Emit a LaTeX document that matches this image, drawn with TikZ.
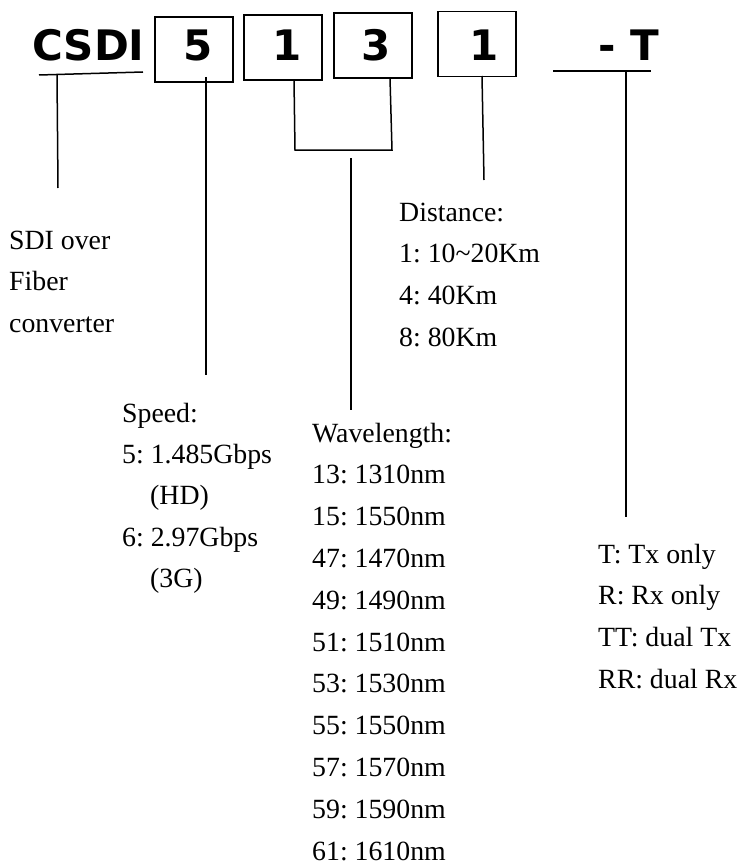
\documentclass[tikz,border=0pt]{standalone}
\usepackage{fontspec}
\setmainfont{Liberation Serif}
\newfontfamily\codefont{DejaVu Sans Bold}
\begin{document}
\frenchspacing
\begin{tikzpicture}[x=1pt,y=-1pt,
  box/.style={draw,line width=1.8pt,inner sep=0pt,minimum width=78pt,minimum height=65pt},
  code/.style={inner sep=0pt,anchor=base,font=\codefont\fontsize{42}{42}\selectfont},
  txt/.style={inner sep=0pt,anchor=base west,font=\fontsize{27.8}{27.8}\selectfont},
  conn/.style={line width=1.5pt}]
\useasboundingbox (0,0) rectangle (741,864);
% code row
\node[code,anchor=base west] (csdi) at (32,61) {CSDI};
\node[box] (b5) at (194,49.5) {};
\node[box] (b1) at (283,47.5) {};
\node[box] (b3) at (373,45.5) {};
\node[box] (bd) at (477,44) {};
\node[code] (t5) at (198,61) {5};
\node[code] (t1) at (287,61) {1};
\node[code] (t3) at (376,61) {3};
\node[code] (td) at (484,61) {1};
\node[code,anchor=base west] (tt) at (598,61) {- T};
% underlines
\coordinate (u1a) at (39,75); \coordinate (u1b) at (143,72);
\coordinate (u2a) at (553,71); \coordinate (u2b) at (651,71);
\draw[conn] (u1a) -- (u1b);
\draw[conn] (u2a) -- (u2b);
% connectors
\coordinate (c0a) at (57,75); \coordinate (c0b) at (58,188);
\draw[conn] (c0a) -- (c0b);
\coordinate (c5a) at (206,77); \coordinate (c5b) at (206,375);
\draw[conn] (c5a) -- (c5b);
\coordinate (br1) at (294,80); \coordinate (br2) at (295,150);
\coordinate (br3) at (392,150); \coordinate (br4) at (390,78);
\draw[conn] (br1) -- (br2) -- (br3) -- (br4);
\coordinate (cwa) at (351,158); \coordinate (cwb) at (351,410);
\draw[conn] (cwa) -- (cwb);
\coordinate (cda) at (482,76); \coordinate (cdb) at (484,180);
\draw[conn] (cda) -- (cdb);
\coordinate (cta) at (626,71); \coordinate (ctb) at (626,517);
\draw[conn] (cta) -- (ctb);
% texts
\foreach \t [count=\i] in {{SDI over},{Fiber},{converter}}
  \node[txt] (s\i) at (9,{249+41.5*(\i-1)}) {\t};
\foreach \t [count=\i] in {{Distance:},{1: 10\textasciitilde20Km},{4: 40Km},{8: 80Km}}
  \node[txt] (d\i) at (399,{221+41.7*(\i-1)}) {\t};
\foreach \t [count=\i] in {{Speed:},{5: 1.485Gbps},{\hspace*{28pt}(HD)},{6: 2.97Gbps},{\hspace*{28pt}(3G)}}
  \node[txt] (p\i) at (122,{422+41.4*(\i-1)}) {\t};
\foreach \t [count=\i] in {{Wavelength:},{13: 1310nm},{15: 1550nm},{47: 1470nm},{49: 1490nm},{51: 1510nm},{53: 1530nm},{55: 1550nm},{57: 1570nm},{59: 1590nm},{61: 1610nm}}
  \node[txt] (w\i) at (312,{442+41.8*(\i-1)}) {\t};
\foreach \t [count=\i] in {{T: Tx only},{R: Rx only},{TT: dual Tx},{RR: dual Rx}}
  \node[txt] (r\i) at (598,{563+41.7*(\i-1)}) {\t};
\end{tikzpicture}
\end{document}
